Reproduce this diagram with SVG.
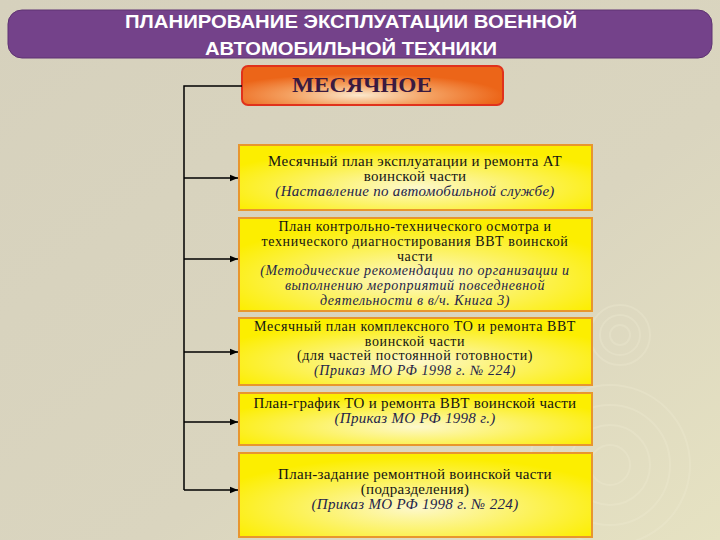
<svg xmlns="http://www.w3.org/2000/svg" width="720" height="540" viewBox="0 0 720 540">
<defs>
<linearGradient id="bg" x1="0" y1="0" x2="1" y2="1">
<stop offset="0" stop-color="#d6d1bd"/>
<stop offset="0.6" stop-color="#dad5bf"/>
<stop offset="1" stop-color="#e6e2c2"/>
</linearGradient>
<radialGradient id="yel" cx="0.5" cy="0.65" r="0.6">
<stop offset="0" stop-color="#fdf8cc"/>
<stop offset="0.55" stop-color="#fcf25a"/>
<stop offset="1" stop-color="#fcee00"/>
</radialGradient>
<radialGradient id="org" cx="0.45" cy="0.75" r="0.55">
<stop offset="0" stop-color="#fbe8cc"/>
<stop offset="0.5" stop-color="#f4a060"/>
<stop offset="1" stop-color="#ec6518"/>
</radialGradient>
<marker id="arr" viewBox="0 0 8 8" refX="8" refY="4" markerWidth="8" markerHeight="8" markerUnits="userSpaceOnUse" orient="auto">
<path d="M0,0.8 L8,4 L0,7.2 Z" fill="#000"/>
</marker>
<style>
.box{fill:url(#yel);stroke:#e8962e;stroke-width:2}
.t{font-family:"Liberation Serif","Times New Roman",serif;font-size:15px;letter-spacing:0.3px;fill:#141414;text-anchor:middle}
.s{font-size:14px;letter-spacing:0.6px}
.i{font-style:italic;fill:#24244a}
.ln{fill:none;stroke:#000;stroke-width:1.5}
.rip{fill:none;stroke:#f1edd4;stroke-width:2}
</style>
</defs>
<rect width="720" height="540" fill="url(#bg)"/>
<g opacity="0.3">
<circle class="rip" cx="620" cy="335" r="10"/>
<circle class="rip" cx="620" cy="335" r="20"/>
<circle class="rip" cx="620" cy="335" r="30"/>
<circle class="rip" cx="610" cy="465" r="20"/>
<circle class="rip" cx="610" cy="465" r="40"/>
<circle class="rip" cx="610" cy="465" r="60"/>
<circle class="rip" cx="610" cy="465" r="80"/>
</g>
<g id="title">
<rect x="8" y="10" width="704" height="48" rx="14" fill="#74428a" stroke="#5e3272" stroke-width="1"/>
<text x="351" y="28" font-family="'Liberation Sans',Arial,sans-serif" font-weight="bold" font-size="18" fill="#fff" text-anchor="middle" textLength="452" lengthAdjust="spacingAndGlyphs">ПЛАНИРОВАНИЕ ЭКСПЛУАТАЦИИ ВОЕННОЙ</text>
<text x="351" y="55" font-family="'Liberation Sans',Arial,sans-serif" font-weight="bold" font-size="18" fill="#fff" text-anchor="middle" textLength="292" lengthAdjust="spacingAndGlyphs">АВТОМОБИЛЬНОЙ ТЕХНИКИ</text>
</g>
<g id="monthly">
<rect x="242" y="66" width="261" height="39" rx="6" fill="url(#org)" stroke="#e0321c" stroke-width="2"/>
<text x="362" y="92" font-family="'Liberation Serif','Times New Roman',serif" font-weight="bold" font-size="21" fill="#3a1a40" text-anchor="middle" textLength="140" lengthAdjust="spacingAndGlyphs">МЕСЯЧНОЕ</text>
</g>
<g id="connectors">
<path class="ln" d="M242,86 H184 V490"/>
<path class="ln" d="M184,178 H238" marker-end="url(#arr)"/>
<path class="ln" d="M184,259 H238" marker-end="url(#arr)"/>
<path class="ln" d="M184,352 H238" marker-end="url(#arr)"/>
<path class="ln" d="M184,422 H238" marker-end="url(#arr)"/>
<path class="ln" d="M184,490 H238" marker-end="url(#arr)"/>
</g>
<g id="box1">
<rect class="box" x="239" y="145" width="353" height="65"/>
<text class="t" x="415" y="166">Месячный план эксплуатации и ремонта АТ</text>
<text class="t" x="415" y="181">воинской части</text>
<text class="t i" x="415" y="196">(Наставление по автомобильной службе)</text>
</g>
<g id="box2">
<rect class="box" x="239" y="218" width="353" height="93"/>
<text class="t s" x="415" y="231">План контрольно-технического осмотра и</text>
<text class="t s" x="415" y="245.8">технического диагностирования ВВТ воинской</text>
<text class="t s" x="415" y="260.6">части</text>
<text class="t s i" x="415" y="275.4">(Методические рекомендации по организации и</text>
<text class="t s i" x="415" y="290.2">выполнению мероприятий повседневной</text>
<text class="t s i" x="415" y="305">деятельности в в/ч. Книга 3)</text>
</g>
<g id="box3">
<rect class="box" x="239" y="318" width="353" height="67"/>
<text class="t s" x="415" y="331">Месячный план комплексного ТО и ремонта ВВТ</text>
<text class="t s" x="415" y="345.5">воинской части</text>
<text class="t s" x="415" y="360">(для частей постоянной готовности)</text>
<text class="t s i" x="415" y="374.5">(Приказ МО РФ 1998 г. № 224)</text>
</g>
<g id="box4">
<rect class="box" x="239" y="393" width="353" height="52"/>
<text class="t" x="415" y="408">План-график ТО и ремонта ВВТ воинской части</text>
<text class="t i" x="415" y="423">(Приказ МО РФ 1998 г.)</text>
</g>
<g id="box5">
<rect class="box" x="239" y="453" width="353" height="84"/>
<text class="t" x="415" y="479">План-задание ремонтной воинской части</text>
<text class="t" x="415" y="494">(подразделения)</text>
<text class="t i" x="415" y="509">(Приказ МО РФ 1998 г. № 224)</text>
</g>
</svg>
